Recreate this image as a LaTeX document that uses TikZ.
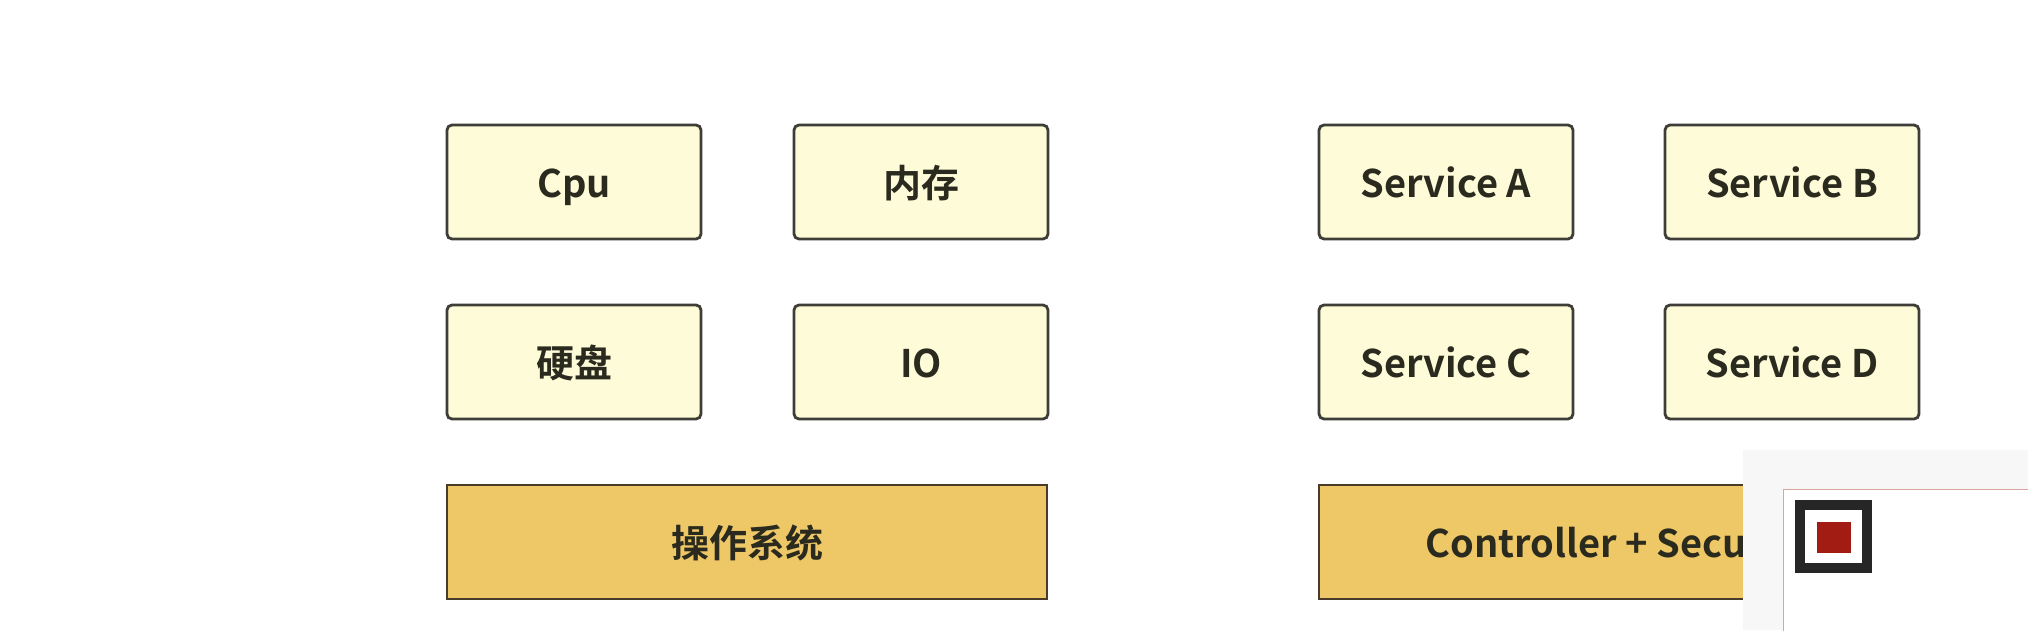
\documentclass[tikz,border=0pt]{standalone}
\usepackage{fontspec}
\setmainfont{Noto Sans CJK SC}[BoldFont={* Bold}]
\definecolor{boxfill}{HTML}{FEFCD8}
\definecolor{basefill}{HTML}{EEC866}
\definecolor{boxline}{HTML}{3E3D38}
\definecolor{baseline}{HTML}{4A3C2C}
\definecolor{txt}{HTML}{2B2A1F}
\definecolor{qrred}{HTML}{A21C14}
\tikzset{
	partbox/.style={draw=boxline,fill=boxfill,line width=2.8pt,rounded corners=5pt,
		minimum width=254pt,minimum height=114pt,text=txt,text height=34pt,text depth=4pt,
		font=\fontsize{38}{44}\selectfont\bfseries},
	basebox/.style={draw=baseline,fill=basefill,line width=2.8pt,
		minimum width=600pt,minimum height=114pt,text=txt,text height=34pt,text depth=4pt,
		font=\fontsize{38}{44}\selectfont\bfseries}
}
\begin{document}
\begin{tikzpicture}[x=1pt,y=-1pt]
	\useasboundingbox[fill=white] (0,0) rectangle (2028,630);
	%% the machine
	\node[partbox] (cpu) at (574,182) {Cpu};
	\node[partbox] (mem) at (921,182) {内存};
	\node[partbox] (disk) at (574,362) {硬盘};
	\node[partbox] (io) at (921,362) {IO};
	\node[basebox] (os) at (747,542) {操作系统};
	%% the services
	\node[partbox] (sva) at (1446,182) {Service A};
	\node[partbox] (svb) at (1792,182) {Service B};
	\node[partbox] (svc) at (1446,362) {Service C};
	\node[partbox] (svd) at (1792,362) {Service D};
	\node[basebox] (ctrl) at (1619,542) {Controller + Security};
	%% the overlay in the corner
	\fill[black!3] (1743,450) rectangle (2028,630);
	\draw[fill=white,draw=qrred!40,line width=1pt] (1783,489) rectangle (2040,640);
	\draw[black!85,line width=10pt] (1800,505) rectangle (1867,568);
	\fill[qrred] (1817,522) rectangle (1851,553);
\end{tikzpicture}
\end{document}
